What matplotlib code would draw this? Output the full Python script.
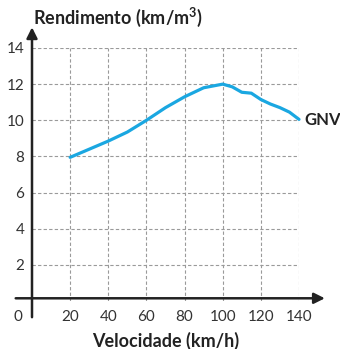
import matplotlib.pyplot as plt

plt.rcParams['font.family'] = ['Lato', 'DejaVu Sans']
plt.rcParams['mathtext.fontset'] = 'custom'
plt.rcParams['mathtext.rm'] = 'Lato'
plt.rcParams['mathtext.bf'] = 'Lato:bold'

# GNV curve
velocidade = [20, 30, 40, 50, 60, 70, 80, 90, 100, 105, 110, 115, 120, 125, 130, 135, 140]
rendimento = [7.95, 8.4, 8.85, 9.35, 10.0, 10.7, 11.3, 11.8, 12.0, 11.85, 11.55, 11.5,
              11.15, 10.9, 10.7, 10.45, 10.05]

x_ticks = [20, 40, 60, 80, 100, 120, 140]
y_ticks = [2, 4, 6, 8, 10, 12, 14]

W, H = 340, 349
fig = plt.figure(figsize=(W / 100, H / 100), dpi=100)
ax = fig.add_axes([32 / W, (H - 301) / H, (299 - 32) / W, (301 - 48) / H])
ax.set_xlim(0, 140)
ax.set_ylim(0, 14)
for s in ax.spines.values():
    s.set_visible(False)
ax.set_xticks(x_ticks)
ax.set_yticks(y_ticks)
ax.tick_params(length=0, labelbottom=False, labelleft=False)
ax.grid(True, color='#9a9a9a', lw=0.8, ls=(0, (3, 2)))

# axes with arrows
ax.annotate('', xy=(155, 0.15), xytext=(-10, 0.15), annotation_clip=False,
            arrowprops=dict(arrowstyle='-|>', color='#222222', lw=1.8, mutation_scale=16))
ax.annotate('', xy=(0, 15.3), xytext=(0, -1.05), annotation_clip=False,
            arrowprops=dict(arrowstyle='-|>', color='#222222', lw=1.8, mutation_scale=16))

ax.plot(velocidade, rendimento, color='#1aa7e1', lw=2.3, solid_capstyle='round',
        solid_joinstyle='round', clip_on=False, zorder=5)

tick_kw = dict(fontsize=11, color='#333333', va='baseline')
for v in x_ticks:
    ax.text(v, -1.1, str(v), ha='center', **tick_kw)
for r in y_ticks:
    ax.text(-4.0, r - 0.3, str(r), ha='right', **tick_kw)
ax.text(-7.3, -1.1, '0', ha='center', **tick_kw)

lab_kw = dict(fontsize=13, fontweight='bold', color='#222222', va='baseline')
ax.text(0.6, 15.33, r'Rendimento (km/m$^{\mathbf{3}}$)', ha='left', **lab_kw)
ax.text(70, -2.56, 'Velocidade (km/h)', ha='center', **lab_kw)
ax.text(142.8, 9.72, 'GNV', ha='left', fontsize=12, fontweight='bold',
        color='#222222', va='baseline')

fig.savefig('out.png', dpi=100)
